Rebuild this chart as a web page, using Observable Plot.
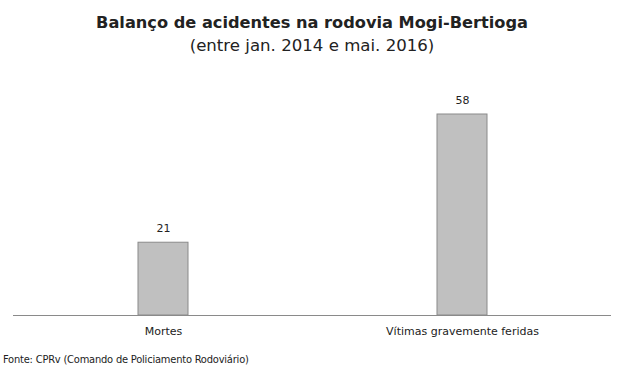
<!DOCTYPE html>
<html>
<head>
<meta charset="utf-8">
<script src="https://cdn.jsdelivr.net/npm/d3@7"></script>
<script src="https://cdn.jsdelivr.net/npm/@observablehq/plot@0.6"></script>
<style>
  body { margin: 0; background: #fff; font-family: "DejaVu Sans", Tahoma, sans-serif; color: #222; }
  #wrap { width: 624px; height: 375px; position: relative; overflow: hidden; }
  #title { position: absolute; top: 12px; left: 0; width: 624px; text-align: center; font-weight: bold; font-size: 16.2px; line-height: 22px; }
  #subtitle { position: absolute; top: 35px; left: 0; width: 624px; text-align: center; font-size: 16.6px; line-height: 22px; }
  #chart { position: absolute; top: 60px; left: 0; }
  #caption { position: absolute; top: 353px; left: 3px; font-family: "DejaVu Sans Condensed", "DejaVu Sans", sans-serif; font-stretch: condensed; font-size: 11px; letter-spacing: -0.2px; line-height: 14px; }
</style>
</head>
<body>
<div id="wrap">
  <div id="title">Balanço de acidentes na rodovia Mogi-Bertioga</div>
  <div id="subtitle">(entre jan. 2014 e mai. 2016)</div>
  <div id="chart"></div>
  <div id="caption">Fonte: CPRv (Comando de Policiamento Rodoviário)</div>
</div>
<script>
const categories = ["Mortes", "Vítimas gravemente feridas"];
const values = [21, 58];
const data = categories.map((c, i) => ({category: c, value: values[i]}));

const chart = Plot.plot({
  width: 624,
  height: 290,
  marginTop: 54,
  marginBottom: 35,
  marginLeft: 13,
  marginRight: 13,
  style: {fontFamily: "'DejaVu Sans', Tahoma, sans-serif", fontSize: "11px", color: "#222", background: "transparent"},
  x: {domain: categories, paddingInner: 0.833, paddingOuter: 0.4165, label: null, tickSize: 0, tickPadding: 12},
  y: {domain: [0, 58], axis: null},
  marks: [
    Plot.barY(data, {x: "category", y: "value", fill: "#c0c0c0", stroke: "#8a8a8a", strokeWidth: 1}),
    Plot.ruleY([0], {stroke: "#8a8a8a", strokeWidth: 1}),
    Plot.text(data, {x: "category", y: "value", text: d => String(d.value), dy: -14, fill: "#222", fontSize: 11})
  ]
});
document.getElementById("chart").appendChild(chart);
</script>
</body>
</html>
